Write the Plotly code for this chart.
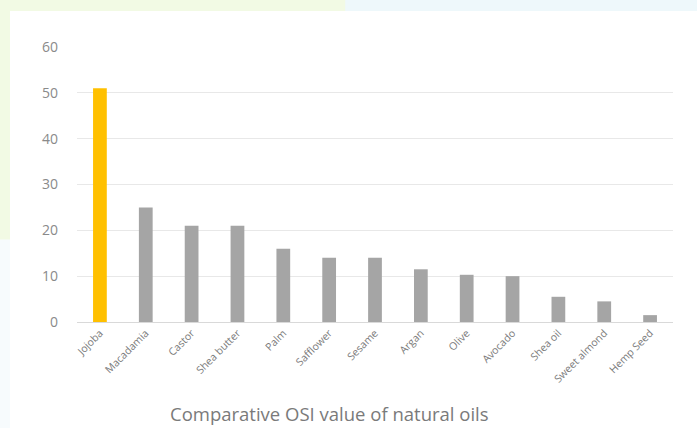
import plotly.graph_objects as go

oils = ["Jojoba", "Macadamia", "Castor", "Shea butter", "Palm", "Safflower", "Sesame",
        "Argan", "Olive", "Avocado", "Shea oil", "Sweet almond", "Hemp Seed"]
osi = [51, 25, 21, 21, 16, 14, 14, 11.5, 10.3, 10, 5.5, 4.5, 1.5]
colors = ["#ffc000"] + ["#a5a5a5"] * (len(oils) - 1)
y_ticks = [0, 10, 20, 30, 40, 50, 60]

fig = go.Figure()
fig.add_trace(go.Bar(x=oils, y=osi, marker=dict(color=colors, line=dict(width=0)), width=0.3))

fig.update_layout(
    width=697, height=428,
    margin=dict(l=77, r=24, t=47, b=106),
    paper_bgcolor="#f2fae4",
    plot_bgcolor="rgba(0,0,0,0)",
    showlegend=False,
    font=dict(family="Open Sans", color="#808080"),
    xaxis=dict(tickangle=-45, tickfont=dict(size=10.5, color="#7a7a7a"), showgrid=False,
               showline=True, linecolor="#d9d9d9", linewidth=1, ticks=""),
    yaxis=dict(range=[0, 60], tickvals=y_ticks, tickfont=dict(size=14, color="#8a8a8a"),
               gridcolor="#e8e8e8", gridwidth=1, zeroline=False, ticklabelstandoff=18),
    shapes=[
        dict(type="rect", xref="paper", yref="paper", x0=0.45, x1=1.2, y0=0.9, y1=1.2,
             fillcolor="#eef8fb", line=dict(width=0), layer="below"),
        dict(type="rect", xref="paper", yref="paper", x0=-0.2, x1=0.05, y0=-0.5, y1=0.3,
             fillcolor="#f7fbfd", line=dict(width=0), layer="below"),
        dict(type="rect", xref="paper", yref="paper", x0=-(77 - 10) / 596, x1=1.2,
             y0=-0.5, y1=1 + (47 - 11) / 275, fillcolor="#ffffff", line=dict(width=0), layer="below"),
    ],
    annotations=[
        dict(text="Comparative OSI value of natural oils", xref="paper", yref="paper",
             x=(329 - 77) / 596, y=-(413 - 322) / 275, xanchor="center", yanchor="middle",
             showarrow=False, font=dict(size=18.5, color="#7a7a7a"))
    ],
)

fig.write_html("out.html")
